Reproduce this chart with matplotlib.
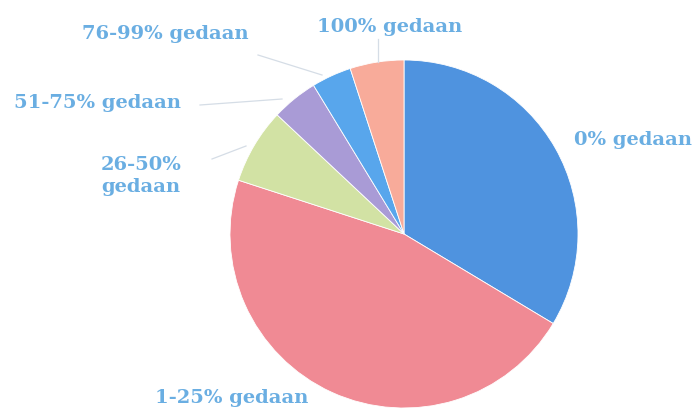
import matplotlib.pyplot as plt

labels = ['0% gedaan', '1-25% gedaan', '26-50%\ngedaan', '51-75% gedaan', '76-99% gedaan', '100% gedaan']
values = [33.6, 46.4, 7.0, 4.3, 3.7, 5.0]
colors = ['#4f93df', '#f08a94', '#d2e2a4', '#a99bd6', '#58a6ec', '#f8ab9a']

# label text positions (pixels, y measured from top)
label_pos = [(633, 140), (232, 398), (141, 176), (97, 103), (165, 34), (390, 27)]
# faint leader lines (pixels, y from top)
leaders = [None, None, ((212, 160), (246, 147)), ((200, 106), (282, 100)),
           ((258, 56), (322, 76)), ((378, 40), (378, 63))]

W, H = 696, 410
fig = plt.figure(figsize=(W / 100, H / 100), dpi=100)
ax = fig.add_axes([0, 0, 1, 1])

ax.pie(values, colors=colors, startangle=90, counterclock=False,
       center=(404, H - 235), radius=174, frame=True,
       wedgeprops=dict(edgecolor='white', linewidth=0.6))
ax.set_xlim(0, W)
ax.set_ylim(0, H)
ax.set_aspect('equal')
ax.axis('off')

for lab, (x, y), ld in zip(labels, label_pos, leaders):
    ax.text(x, H - y, lab, ha='center', va='center', color='#6aaee2',
            fontsize=14, fontweight='bold', family='DejaVu Serif',
            linespacing=1.25)
    if ld is not None:
        (x0, y0), (x1, y1) = ld
        ax.plot([x0, x1], [H - y0, H - y1], color='#d5dde6', lw=0.9)

fig.savefig('out.png', dpi=100)
